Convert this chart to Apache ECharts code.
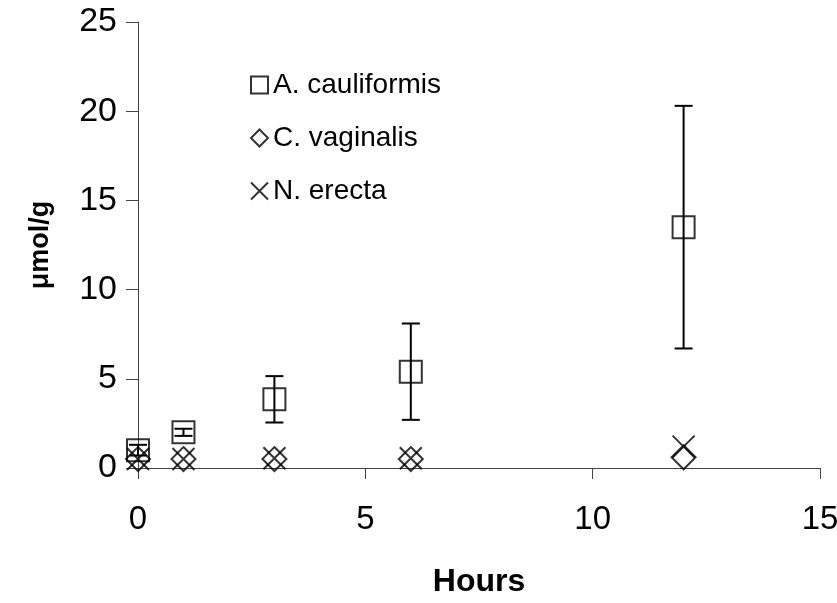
<!DOCTYPE html>
<html>
<head>
<meta charset="utf-8">
<script src="https://cdn.jsdelivr.net/npm/echarts@6/dist/echarts.min.js"></script>
<style>
html,body{margin:0;padding:0;background:#fff;}
#chart{width:837px;height:603px;}
</style>
</head>
<body>
<div id="chart"></div>
<script>
const hours = [0, 1, 3, 6, 12];
const seriesNames = ['A. cauliformis', 'C. vaginalis', 'N. erecta'];
const aCauliformis = [1.0, 2.0, 3.85, 5.4, 13.5];
const aCauliformisErr = [0.3, 0.2, 1.3, 2.7, 6.8];
const cVaginalis = [0.5, 0.5, 0.5, 0.5, 0.6];
const nErecta = [0.5, 0.5, 0.55, 0.55, 1.2];
const xTicks = [0, 5, 10, 15];
const yTicks = [0, 5, 10, 15, 20, 25];

const FONT = '"Liberation Sans", Arial, Helvetica, sans-serif';
const chart = echarts.init(document.getElementById('chart'), null, {renderer: 'canvas'});

const pts = (ys) => hours.map((h, i) => [h, ys[i]]);
const errData = hours.map((h, i) => [h, aCauliformis[i] - aCauliformisErr[i], aCauliformis[i] + aCauliformisErr[i]]);

const markerStyle = {color: 'rgba(0,0,0,0)', borderColor: '#000', borderWidth: 2};

chart.setOption({
  animation: false,
  backgroundColor: '#fff',
  grid: {left: 138, right: 17, top: 22, bottom: 135, containLabel: false, outerBoundsMode: 'none'},
  legend: {
    orient: 'vertical',
    left: 245,
    top: 66,
    itemGap: 25,
    itemWidth: 17,
    itemHeight: 17,
    textStyle: {fontFamily: FONT, fontSize: 28, color: '#000'},
    data: seriesNames
  },
  xAxis: {
    type: 'value',
    min: xTicks[0], max: xTicks[xTicks.length - 1], interval: 5,
    name: 'Hours',
    nameLocation: 'middle',
    nameGap: 98,
    nameTextStyle: {fontFamily: FONT, fontSize: 32, fontWeight: 'bold', color: '#000'},
    axisLine: {onZero: false, lineStyle: {color: '#444', width: 1}},
    axisTick: {show: true, inside: false, length: 11, lineStyle: {color: '#444'}},
    axisLabel: {fontFamily: FONT, fontSize: 33, color: '#000', margin: 35},
    splitLine: {show: false}
  },
  yAxis: {
    type: 'value',
    min: yTicks[0], max: yTicks[yTicks.length - 1], interval: 5,
    name: 'μmol/g',
    nameLocation: 'middle',
    nameGap: 84,
    nameRotate: 90,
    nameTextStyle: {fontFamily: FONT, fontSize: 27, fontWeight: 'bold', color: '#000'},
    axisLine: {show: true, lineStyle: {color: '#444', width: 1}},
    axisTick: {show: true, inside: false, length: 12, lineStyle: {color: '#444'}},
    axisLabel: {fontFamily: FONT, fontSize: 34, color: '#000', margin: 21},
    splitLine: {show: false}
  },
  series: [
    {
      name: 'errA',
      type: 'custom',
      data: errData,
      z: 1,
      renderItem: function (params, api) {
        const x = api.value(0);
        const lo = api.coord([x, api.value(1)]);
        const hi = api.coord([x, api.value(2)]);
        const cw = 9;
        const st = {stroke: '#000', lineWidth: 2};
        return {
          type: 'group',
          children: [
            {type: 'line', shape: {x1: lo[0], y1: lo[1], x2: hi[0], y2: hi[1]}, style: st},
            {type: 'line', shape: {x1: lo[0] - cw, y1: lo[1], x2: lo[0] + cw, y2: lo[1]}, style: st},
            {type: 'line', shape: {x1: hi[0] - cw, y1: hi[1], x2: hi[0] + cw, y2: hi[1]}, style: st}
          ]
        };
      }
    },
    {
      name: seriesNames[0],
      type: 'scatter',
      symbol: 'rect',
      symbolSize: 22,
      data: pts(aCauliformis),
      itemStyle: markerStyle,
      z: 3
    },
    {
      name: seriesNames[1],
      type: 'scatter',
      symbol: 'diamond',
      symbolSize: 24,
      data: pts(cVaginalis),
      itemStyle: markerStyle,
      z: 3
    },
    {
      name: seriesNames[2],
      type: 'scatter',
      symbol: 'path://M0,0L20,20M20,0L0,20',
      symbolSize: 22,
      data: pts(nErecta),
      itemStyle: markerStyle,
      z: 3
    }
  ]
});
</script>
</body>
</html>
